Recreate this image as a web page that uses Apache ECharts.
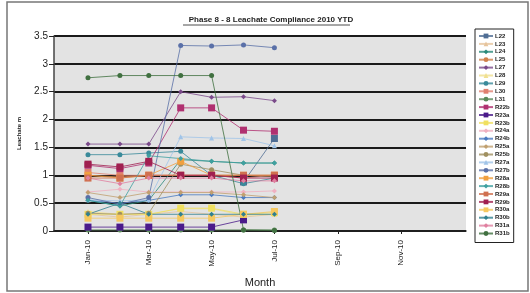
<!DOCTYPE html>
<html>
<head>
<meta charset="utf-8">
<script src="https://cdn.jsdelivr.net/npm/echarts@6/dist/echarts.min.js"></script>
<style>
  html, body { margin: 0; padding: 0; background: #fff; }
  #chart { width: 530px; height: 293px; }
</style>
</head>
<body>
<div id="chart"></div>
<script>
// sample months (first of month, 2010)
const months = ['2010-01-01', '2010-02-01', '2010-03-01', '2010-04-01', '2010-05-01', '2010-06-01', '2010-07-01'];
const tickMonths = ['2010-01-01', '2010-03-01', '2010-05-01', '2010-07-01', '2010-09-01', '2010-11-01'];
const yTicks = [0, 0.5, 1, 1.5, 2, 2.5, 3, 3.5];

const seriesNames = ['L22', 'L23', 'L24', 'L25', 'L27', 'L28', 'L29', 'L30', 'L31',
  'R22b', 'R23a', 'R23b', 'R24a', 'R24b', 'R25a', 'R25b', 'R27a', 'R27b',
  'R28a', 'R28b', 'R29a', 'R29b', 'R30a', 'R30b', 'R31a', 'R31b'];

const L22 = [null, null, null, null, null, 0.88, 1.66];
const L23 = [0.30, 0.25, 0.30, 0.35, 0.30, 0.25, 0.30];
const L24 = [0.55, 0.45, 0.55, 1.28, 1.25, 1.22, 1.22];
const L25 = [1.00, 0.97, 1.00, 1.00, 1.00, 1.00, 1.00];
const L27 = [1.56, 1.56, 1.56, 2.50, 2.40, 2.41, 2.34];
const L28 = [0.35, 0.30, 0.30, 0.40, 0.40, 0.28, 0.30];
const L29 = [1.37, 1.37, 1.40, 1.43, 1.00, 0.85, 0.95];
const L30 = [1.05, 1.00, 1.00, 1.00, 1.00, 0.95, 1.00];
const L31 = [0.02, 0.02, 0.02, 0.02, 0.02, 0.02, 0.02];
const R22b = [1.18, 1.12, 1.22, 2.21, 2.21, 1.81, 1.79];
const R23a = [0.07, 0.07, 0.07, 0.07, 0.07, 0.20, null];
const R23b = [0.30, 0.30, 0.30, 0.41, 0.41, 0.30, 0.33];
const R24a = [0.70, 0.75, 0.70, 0.70, 0.70, 0.70, 0.72];
const R24b = [0.55, 0.50, 0.55, 0.65, 0.65, 0.60, 0.60];
const R25a = [0.69, 0.60, 0.69, 0.69, 0.69, 0.65, 0.60];
const R25b = [0.32, 0.30, 0.32, 1.20, 1.10, 1.00, 0.98];
const R27a = [0.56, 0.54, 0.56, 1.69, 1.67, 1.66, 1.53];
const R27b = [0.60, 0.48, 0.60, 3.33, 3.32, 3.34, 3.29];
const R28a = [1.00, 0.95, 1.00, 1.25, 1.00, 1.00, 1.00];
const R28b = [0.55, 0.45, 1.35, 1.30, 1.25, 1.22, 1.22];
const R29a = [0.95, 0.95, 1.00, 1.00, 1.00, 1.00, 1.00];
const R29b = [1.20, 1.15, 1.25, 1.00, 1.00, 0.95, 0.95];
const R30a = [0.23, 0.23, 0.23, 0.23, 0.23, 0.30, 0.35];
const R30b = [0.30, 0.50, 0.30, 0.30, 0.30, 0.30, 0.30];
const R31a = [0.95, 0.85, 0.95, 0.95, 0.95, 0.90, 0.90];
const R31b = [2.75, 2.79, 2.79, 2.79, 2.79, 0.02, 0.01];

const values = [L22, L23, L24, L25, L27, L28, L29, L30, L31,
  R22b, R23a, R23b, R24a, R24b, R25a, R25b, R27a, R27b,
  R28a, R28b, R29a, R29b, R30a, R30b, R31a, R31b];

const colors = ['#4f6d94', '#e6c49c', '#2a8a7a', '#d0804a', '#7a4a8a', '#f0e090', '#3a8a9a', '#e08070', '#5a8a5a',
  '#b03070', '#4a1a8a', '#f0e060', '#f0b0c0', '#4a7ac0', '#c0a070', '#a09060', '#a0c4e8', '#5a70a8',
  '#f0a040', '#40a0a0', '#d07050', '#a02050', '#f5c860', '#308090', '#e080a0', '#407040'];

const symbols = ['rect', 'triangle', 'diamond', 'circle', 'diamond', 'triangle', 'circle', 'rect', 'circle',
  'rect', 'rect', 'rect', 'diamond', 'diamond', 'diamond', 'circle', 'triangle', 'circle',
  'rect', 'diamond', 'rect', 'rect', 'rect', 'diamond', 'diamond', 'circle'];

const ts = d => new Date(d + 'T00:00:00Z').getTime();
const monthNames = ['Jan', 'Feb', 'Mar', 'Apr', 'May', 'Jun', 'Jul', 'Aug', 'Sep', 'Oct', 'Nov', 'Dec'];

const chart = echarts.init(document.getElementById('chart'));

chart.setOption({
  animation: false,
  color: colors,
  title: {
    text: 'Phase 8 - 8 Leachate Compliance 2010 YTD',
    left: 266,
    textAlign: 'center',
    top: 11,
    textStyle: { fontSize: 8, fontWeight: 'bold', color: '#222', fontFamily: 'Liberation Sans' }
  },
  legend: {
    orient: 'vertical',
    left: 475,
    top: 29,
    padding: [4, 4, 6, 3],
    borderColor: '#222',
    borderWidth: 1,
    itemWidth: 14,
    itemHeight: 6,
    itemGap: 1.9,
    data: seriesNames,
    textStyle: { fontSize: 6, fontWeight: 'bold', color: '#222', padding: [0, 0, 0, -3], fontFamily: 'Liberation Sans' }
  },
  grid: {
    left: 54, right: 64, top: 36, bottom: 60,
    show: true, backgroundColor: '#e3e3e3', borderWidth: 0
  },
  xAxis: {
    type: 'value',
    min: ts('2009-11-29'),
    max: ts('2011-01-03'),
    name: 'Month',
    nameLocation: 'middle',
    nameGap: 46,
    nameTextStyle: { fontSize: 11, color: '#222', fontFamily: 'Liberation Sans' },
    axisLine: { lineStyle: { color: '#222', width: 1.5 } },
    axisTick: { show: true, length: 3, customValues: tickMonths.map(ts), lineStyle: { color: '#222' } },
    splitLine: { show: false },
    axisLabel: {
      customValues: tickMonths.map(ts),
      rotate: 90,
      fontSize: 8,
      margin: 9,
      color: '#222',
      fontFamily: 'Liberation Sans',
      formatter: v => {
        const d = new Date(v);
        return monthNames[d.getUTCMonth()] + '-' + String(d.getUTCFullYear()).slice(2);
      }
    }
  },
  yAxis: {
    type: 'value',
    min: yTicks[0],
    max: yTicks[yTicks.length - 1],
    interval: 0.5,
    name: 'Leachate m',
    nameLocation: 'middle',
    nameGap: 32,
    nameRotate: 90,
    nameTextStyle: { fontSize: 6, fontWeight: 'bold', color: '#222', fontFamily: 'Liberation Sans' },
    axisLine: { show: true, lineStyle: { color: '#444', width: 1.5 } },
    axisTick: { show: true, length: 5, lineStyle: { color: '#222' } },
    splitLine: { lineStyle: { color: '#1a1a1a', width: 2 } },
    axisLabel: { fontSize: 10, color: '#222', margin: 6, fontFamily: 'Liberation Sans' }
  },
  graphic: [
    { type: 'rect', shape: { x: 7, y: 2, width: 521, height: 289 }, style: { fill: 'none', stroke: '#777', lineWidth: 1.5 }, z: -1 },
    { type: 'line', shape: { x1: 183, y1: 25, x2: 350, y2: 25 }, style: { stroke: '#222', lineWidth: 0.8 } }
  ],
  series: seriesNames.map((name, i) => ({
    name: name,
    type: 'line',
    data: months.map((m, j) => [ts(m), values[i][j]]),
    symbol: symbols[i],
    symbolSize: symbols[i] === 'rect' ? 7 : 5,
    showSymbol: true,
    connectNulls: false,
    lineStyle: { width: 1, opacity: 0.8 },
    itemStyle: { color: colors[i] }
  }))
});
</script>
</body>
</html>
